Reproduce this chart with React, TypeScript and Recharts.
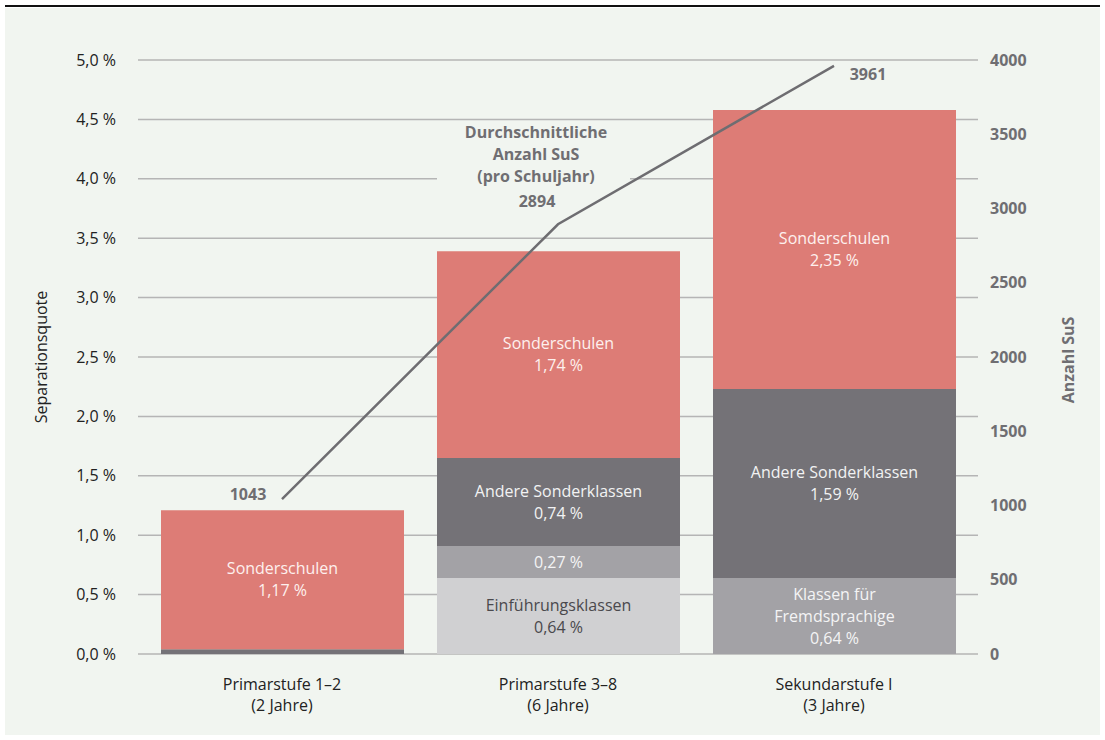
import {
  ComposedChart,
  Bar,
  Line,
  XAxis,
  YAxis,
  CartesianGrid,
  LabelList,
  Label
} from 'recharts';

const categories = ['Primarstufe 1–2', 'Primarstufe 3–8', 'Sekundarstufe I'];
const periods = ['(2 Jahre)', '(6 Jahre)', '(3 Jahre)'];

// Separationsquote in %, stacked bottom to top
const einfuehrung = [0, 0.64, 0];
const fremdsprachige = [0, 0.27, 0.64];
const andere = [0.04, 0.74, 1.59];
const sonderschulen = [1.17, 1.74, 2.35];

// Durchschnittliche Anzahl SuS (pro Schuljahr)
const schueler = [1043, 2894, 3961];

const einfuehrungNames = ['', 'Einführungsklassen', ''];
const fremdNames = ['', '', 'Klassen für|Fremdsprachige'];
const andereNames = ['', 'Andere Sonderklassen', 'Andere Sonderklassen'];
const sonderNames = ['Sonderschulen', 'Sonderschulen', 'Sonderschulen'];

const leftTicks = [0, 0.5, 1, 1.5, 2, 2.5, 3, 3.5, 4, 4.5, 5];
const rightTicks = [0, 500, 1000, 1500, 2000, 2500, 3000, 3500, 4000];

const data = categories.map((name, i) => ({
  name,
  einfuehrung: einfuehrung[i],
  fremdsprachige: fremdsprachige[i],
  andere: andere[i],
  sonderschulen: sonderschulen[i],
  schueler: schueler[i]
}));

const FONT = '"Open Sans", "Noto Sans", sans-serif';
const BG = '#f1f5f0';
const GREY_TEXT = '#6f6e72';

// label offsets for the line values (relative to the point)
const lineLabelOffsets = [
  { dx: -34, dy: 1 },
  { dx: -21, dy: -17 },
  { dx: 34, dy: 14 }
];

const fmtPct = (v: number) => v.toFixed(2).replace('.', ',') + ' %';

// the LabelList is keyed on the category name, so zero-height segments
// don't shift the index
const makeBarLabel =
  (values: number[], names: string[], color: string) => (props: any) => {
    const { x, y, width, height, value } = props;
    const idx = categories.indexOf(value);
    const v = values[idx];
    if (idx < 0 || !v || v < 0.2) return null;
    const title = names[idx] ? names[idx].split('|') : [];
    const lines = [...title, fmtPct(v)];
    const cx = x + width / 2;
    const cy = y + height / 2;
    const start = cy - ((lines.length - 1) * 22) / 2;
    return (
      <g>
        {lines.map((l, i) => (
          <text
            key={i}
            x={cx}
            y={start + i * 22}
            dy="0.35em"
            textAnchor="middle"
            fill={color}
            fontSize={16}
            fontFamily={FONT}
          >
            {l}
          </text>
        ))}
      </g>
    );
  };

const renderLineLabel = (props: any) => {
  const { x, y, value, index } = props;
  const off = lineLabelOffsets[index];
  return (
    <text
      x={x + off.dx}
      y={y + off.dy}
      textAnchor="middle"
      fill={GREY_TEXT}
      fontSize={16}
      fontWeight={700}
      fontFamily={FONT}
    >
      {value}
    </text>
  );
};

const CategoryTick = (props: any) => {
  const { x, y, payload, index } = props;
  return (
    <g>
      <text
        x={x}
        y={y + 36}
        textAnchor="middle"
        fill="#222"
        fontSize={16}
        fontFamily={FONT}
      >
        {payload.value}
      </text>
      <text
        x={x}
        y={y + 57}
        textAnchor="middle"
        fill="#222"
        fontSize={16}
        fontFamily={FONT}
      >
        {periods[index]}
      </text>
    </g>
  );
};

export default function App() {
  return (
    <div
      style={{
        position: 'absolute',
        left: 0,
        top: 0,
        width: 1105,
        height: 740,
        background: '#fff',
        fontFamily: FONT
      }}
    >
      <div
        style={{
          position: 'absolute',
          left: 5,
          top: 5,
          width: 1095,
          height: 2,
          background: '#111'
        }}
      />
      <div
        style={{
          position: 'absolute',
          left: 5,
          top: 8,
          width: 1095,
          height: 727,
          background: BG
        }}
      />
      <div style={{ position: 'absolute', left: 0, top: 0 }}>
        <ComposedChart
          width={1105}
          height={740}
          data={data}
          margin={{ top: 60, right: 0, bottom: 0, left: 0 }}
        >
          <CartesianGrid
            yAxisId="left"
            vertical={false}
            stroke="#b5b5b5"
            strokeWidth={1.5}
          />
          <XAxis
            dataKey="name"
            height={86}
            axisLine={false}
            tickLine={false}
            tickSize={0}
            tickMargin={0}
            padding={{ left: 6, right: 6 }}
            tick={<CategoryTick />}
            interval={0}
          />
          <YAxis
            yAxisId="left"
            orientation="left"
            width={138}
            domain={[0, 5]}
            ticks={leftTicks}
            axisLine={false}
            tickLine={false}
            tickSize={0}
            tickMargin={22}
            tickFormatter={(v: number) => v.toFixed(1).replace('.', ',') + ' %'}
            tick={{ fill: '#222', fontSize: 16, fontFamily: FONT }}
          >
            <Label
              content={() => (
                <text
                  transform="translate(47,357) rotate(-90)"
                  textAnchor="middle"
                  fill="#222"
                  fontSize={16}
                  fontFamily={FONT}
                >
                  Separationsquote
                </text>
              )}
            />
          </YAxis>
          <YAxis
            yAxisId="right"
            orientation="right"
            width={127}
            domain={[0, 4000]}
            ticks={rightTicks}
            axisLine={false}
            tickLine={false}
            tickSize={0}
            tickMargin={12}
            tick={{
              fill: GREY_TEXT,
              fontSize: 16,
              fontWeight: 700,
              fontFamily: FONT
            }}
          >
            <Label
              content={() => (
                <text
                  transform="translate(1074,360) rotate(-90)"
                  textAnchor="middle"
                  fill={GREY_TEXT}
                  fontSize={16}
                  fontWeight={700}
                  fontFamily={FONT}
                >
                  Anzahl SuS
                </text>
              )}
            />
          </YAxis>
          <Bar
            yAxisId="left"
            dataKey="einfuehrung"
            stackId="s"
            fill="#d0d0d2"
            barSize={243}
            isAnimationActive={false}
          >
            <LabelList
              dataKey="name"
              content={makeBarLabel(einfuehrung, einfuehrungNames, '#4a494d')}
            />
          </Bar>
          <Bar
            yAxisId="left"
            dataKey="fremdsprachige"
            stackId="s"
            fill="#a3a2a6"
            barSize={243}
            isAnimationActive={false}
          >
            <LabelList
              dataKey="name"
              content={makeBarLabel(fremdsprachige, fremdNames, '#f4f4f5')}
            />
          </Bar>
          <Bar
            yAxisId="left"
            dataKey="andere"
            stackId="s"
            fill="#747277"
            barSize={243}
            isAnimationActive={false}
          >
            <LabelList
              dataKey="name"
              content={makeBarLabel(andere, andereNames, '#f2f2f3')}
            />
          </Bar>
          <Bar
            yAxisId="left"
            dataKey="sonderschulen"
            stackId="s"
            fill="#dd7c76"
            barSize={243}
            isAnimationActive={false}
          >
            <LabelList
              dataKey="name"
              content={makeBarLabel(sonderschulen, sonderNames, '#fdf0ee')}
            />
          </Bar>
          <Line
            yAxisId="right"
            dataKey="schueler"
            type="linear"
            stroke="#6e6d71"
            strokeWidth={2.5}
            dot={false}
            activeDot={false}
            isAnimationActive={false}
          >
            <LabelList dataKey="schueler" content={renderLineLabel} />
          </Line>
        </ComposedChart>
      </div>
      {/* gap in the 4,0 % gridline behind the annotation */}
      <div
        style={{
          position: 'absolute',
          left: 437,
          top: 175,
          width: 193,
          height: 6,
          background: BG
        }}
      />
      <div
        style={{
          position: 'absolute',
          left: 436,
          top: 121,
          width: 200,
          textAlign: 'center',
          color: GREY_TEXT,
          fontSize: 16,
          fontWeight: 700,
          lineHeight: '22px'
        }}
      >
        Durchschnittliche
        <br />
        Anzahl SuS
        <br />
        (pro Schuljahr)
      </div>
    </div>
  );
}
